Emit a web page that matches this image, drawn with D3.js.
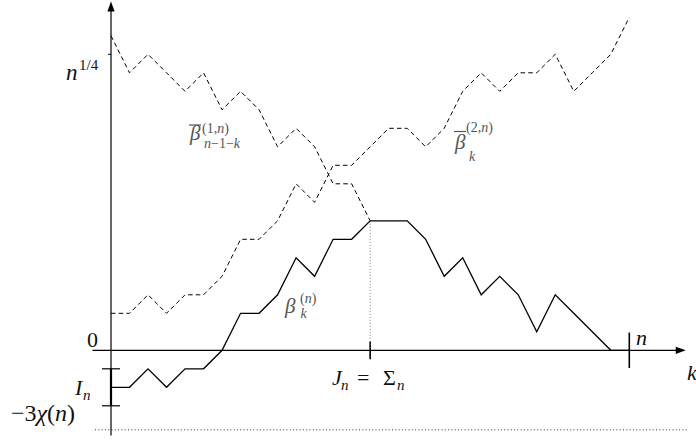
<!DOCTYPE html>
<meta charset="utf-8">
<head>
    <title>Random walk and its reflections</title>
    <script src="https://cdn.jsdelivr.net/npm/d3@7/dist/d3.min.js"></script>
</head>

<style>
    body { margin: 0; background: white; }
    svg { display: block; }
    text { fill: #111; }
    .grey { fill: #555; }
</style>

<svg></svg>

<script>
    var vWidth = 696;
    var vHeight = 441;
    var vFont = "Liberation Serif, DejaVu Serif, Times New Roman, Tinos, serif";

    // step index k = 0..n
    var steps = d3.range(29);
    // solid walk beta_k^(n)
    var beta = [-2, -2, -1, -2, -1, -1, 0, 2, 2, 3, 5, 4, 6, 6, 7, 7, 7, 6, 4, 5, 3, 4, 3, 1, 3, 2, 1, 0, 0];
    // dashed walk, lower start: beta-bar^(2,n)_k
    var betaBar2 = [2, 2, 3, 2, 3, 3, 4, 6, 6, 7, 9, 8, 10, 10, 11, 12, 12, 11, 12, 14, 15, 14, 15, 15, 16, 14, 15, 16, 18];
    // dashed walk, upper start: beta-bar^(1,n)_{n-1-k}, k = 0..J_n
    var betaBar1 = [17, 15, 16, 15, 14, 15, 13, 14, 13, 11, 12, 11, 9, 9, 7];

    var jIndex = 14;          // J_n = Sigma_n
    var nIndex = 28;          // n
    var quarterLevel = 16;    // n^{1/4}
    var intervalIn = [-3, -1]; // I_n
    var chiLevel = -4.3;      // -3 chi(n)

    var svg = d3.select('svg').attr('width', vWidth).attr('height', vHeight);

    var x = d3.scaleLinear().domain([0, 28]).range([111, 629.3]);
    var y = d3.scaleLinear().domain([0, 18]).range([350.3, 17.3]);

    var line = d3.line()
        .x(function (d) { return x(d[0]); })
        .y(function (d) { return y(d[1]); });

    // dotted level -3 chi(n)
    svg.append('line')
        .attr('x1', 95).attr('x2', 687)
        .attr('y1', y(chiLevel)).attr('y2', y(chiLevel))
        .attr('stroke', '#333').attr('stroke-width', 1)
        .attr('stroke-dasharray', '1,2.3');

    // axes
    svg.append('line')
        .attr('x1', x(-1)).attr('x2', x(30.6))
        .attr('y1', y(0)).attr('y2', y(0))
        .attr('stroke', 'black').attr('stroke-width', 1.2);
    svg.append('path')
        .attr('d', 'M' + x(31.05) + ',' + y(0) + 'l-10,-3.6v7.2z')
        .attr('fill', 'black');
    svg.append('line')
        .attr('x1', x(0)).attr('x2', x(0))
        .attr('y1', y(-4.6)).attr('y2', y(18.4))
        .attr('stroke', 'black').attr('stroke-width', 1.2);
    svg.append('path')
        .attr('d', 'M' + x(0) + ',' + y(18.85) + 'l-3.6,10h7.2z')
        .attr('fill', 'black');

    // tick for n^{1/4}
    svg.append('line')
        .attr('x1', x(0) - 3).attr('x2', x(0))
        .attr('y1', y(quarterLevel)).attr('y2', y(quarterLevel))
        .attr('stroke', 'black').attr('stroke-width', 1);

    // I_n bracket
    svg.append('line')
        .attr('x1', x(0)).attr('x2', x(0))
        .attr('y1', y(intervalIn[0])).attr('y2', y(intervalIn[1]))
        .attr('stroke', 'black').attr('stroke-width', 2.2);
    svg.selectAll('.brk').data(intervalIn).enter().append('line')
        .attr('x1', x(0) - 9).attr('x2', x(0) + 9)
        .attr('y1', function (d) { return y(d); })
        .attr('y2', function (d) { return y(d); })
        .attr('stroke', 'black').attr('stroke-width', 1.2);

    // ticks on k axis at J_n and n
    svg.append('line')
        .attr('x1', x(jIndex)).attr('x2', x(jIndex))
        .attr('y1', y(0.48)).attr('y2', y(-0.48))
        .attr('stroke', 'black').attr('stroke-width', 1.6);
    svg.append('line')
        .attr('x1', x(nIndex)).attr('x2', x(nIndex))
        .attr('y1', y(0.96)).attr('y2', y(-0.96))
        .attr('stroke', 'black').attr('stroke-width', 1.6);

    // dotted drop from the maximum
    svg.append('line')
        .attr('x1', x(jIndex)).attr('x2', x(jIndex))
        .attr('y1', y(beta[jIndex])).attr('y2', y(0))
        .attr('stroke', '#777').attr('stroke-width', 1)
        .attr('stroke-dasharray', '1,2');

    // walks
    svg.append('path')
        .attr('d', line(steps.map(function (k) { return [k, betaBar2[k]]; })))
        .attr('fill', 'none').attr('stroke', 'black').attr('stroke-width', 1)
        .attr('stroke-dasharray', '4.5,3.2');
    svg.append('path')
        .attr('d', line(betaBar1.map(function (v, k) { return [k, v]; })))
        .attr('fill', 'none').attr('stroke', 'black').attr('stroke-width', 1)
        .attr('stroke-dasharray', '4.5,3.2');
    svg.append('path')
        .attr('d', line(steps.map(function (k) { return [k, beta[k]]; })))
        .attr('fill', 'none').attr('stroke', 'black').attr('stroke-width', 1.3)
        .attr('stroke-linejoin', 'miter');

    // text helper
    function label(px, py, size, parts, cls) {
        var t = svg.append('text').attr('x', px).attr('y', py)
            .attr('font-size', size).attr('font-family', vFont);
        if (cls) t.attr('class', cls);
        parts.forEach(function (p) {
            var s = t.append('tspan').text(p[0]);
            if (p[1]) s.attr('font-style', 'italic');
        });
        return t;
    }

    label(98, 346.5, 22, [['0', false]]).attr('text-anchor', 'end');
    label(66, 80, 23, [['n', true]]);
    label(79, 69.5, 15, [['1/4', false]]);
    label(75, 395, 22, [['I', true]]);
    label(83, 400, 15, [['n', true]]);
    label(11, 421, 24, [['\u22123', false], ['\u03c7', true], ['(', false], ['n', true], [')', false]]);
    label(636, 345, 22, [['n', true]]);
    label(687, 380, 22, [['k', true]]);

    // J_n = Sigma_n
    label(332, 385, 22, [['J', true]]);
    label(341, 390, 15, [['n', true]]);
    label(357, 385, 22, [['=', false]]);
    label(383, 385, 22, [['\u03a3', false]]);
    label(397, 390, 15, [['n', true]]);

    // beta_k^(n)
    label(285, 313, 21, [['\u03b2', true]], 'grey');
    label(300, 303, 14, [['(', false], ['n', true], [')', false]], 'grey');
    label(300.5, 318, 14, [['k', true]], 'grey');

    // bar beta^(1,n)_{n-1-k}
    label(190, 140, 21, [['\u03b2', true]], 'grey');
    svg.append('line').attr('x1', 189).attr('x2', 201).attr('y1', 125).attr('y2', 125)
        .attr('stroke', '#555').attr('stroke-width', 1.2);
    label(202, 133, 14, [['(1,', false], ['n', true], [')', false]], 'grey');
    label(204, 148, 14, [['n', true], ['\u22121\u2212', false], ['k', true]], 'grey');

    // bar beta^(2,n)_k
    label(455, 149, 21, [['\u03b2', true]], 'grey');
    svg.append('line').attr('x1', 454).attr('x2', 466).attr('y1', 131.5).attr('y2', 131.5)
        .attr('stroke', '#555').attr('stroke-width', 1.2);
    label(466, 132, 14, [['(2,', false], ['n', true], [')', false]], 'grey');
    label(469, 161, 14, [['k', true]], 'grey');
</script>
